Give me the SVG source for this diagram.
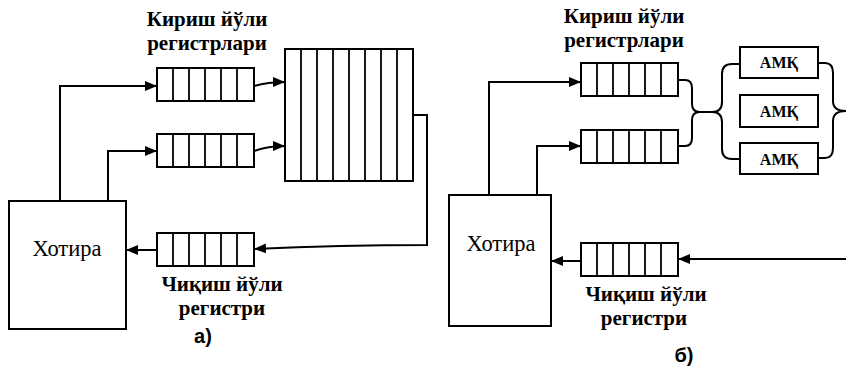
<svg xmlns="http://www.w3.org/2000/svg" width="846" height="372" viewBox="0 0 846 372">
<style>
.box{fill:#fff;stroke:#000;stroke-width:2}
.cell{stroke:#000;stroke-width:1.8}
.ln{fill:none;stroke:#000;stroke-width:2}
.lbl{font-family:"Liberation Serif","Times New Roman",serif;font-weight:bold;font-size:21px;fill:#000;text-anchor:middle}
.mem{font-family:"Liberation Serif","Times New Roman",serif;font-size:22.5px;fill:#000;text-anchor:middle}
.amk{font-family:"Liberation Serif","Times New Roman",serif;font-weight:bold;font-size:16px;fill:#000;text-anchor:middle}
.cap{font-family:"Liberation Sans",Arial,sans-serif;font-weight:bold;font-size:20px;fill:#000;text-anchor:middle}
</style>
<defs>
<marker id="ah" viewBox="0 0 12 10" refX="12" refY="5" markerWidth="12" markerHeight="10" markerUnits="userSpaceOnUse" orient="auto">
<path d="M0,0 L12,5 L0,10 Z" fill="#000"/>
</marker>
<g id="reg">
<rect class="box" x="0" y="0" width="97" height="33"/>
<path class="cell" d="M16,0V33M32,0V33M48,0V33M64,0V33M80,0V33"/>
</g>
</defs>

<g id="a-mem">
<rect class="box" x="9" y="201" width="117" height="128"/>
<text class="mem" x="67" y="256">Хотира</text>
</g>
<g id="a-in1"><use href="#reg" x="157" y="68"/></g>
<g id="a-in2"><use href="#reg" x="157" y="134"/></g>
<g id="a-out"><use href="#reg" x="157" y="233"/></g>
<g id="a-proc">
<rect class="box" x="285" y="49" width="128" height="132"/>
<path class="cell" d="M301,49V181M317,49V181M333,49V181M349,49V181M365,49V181M381,49V181M397,49V181"/>
</g>
<g id="a-labels">
<text class="lbl" x="207" y="26">Кириш йўли</text>
<text class="lbl" x="207" y="50">регистрлари</text>
<text class="lbl" x="222" y="291">Чиқиш йўли</text>
<text class="lbl" x="222" y="315">регистри</text>
<text class="cap" x="203" y="343">а)</text>
</g>

<g id="b-mem">
<rect class="box" x="449" y="195" width="102" height="131"/>
<text class="mem" x="501" y="251">Хотира</text>
</g>
<g id="b-in1"><use href="#reg" x="581" y="63"/></g>
<g id="b-in2"><use href="#reg" x="581" y="130"/></g>
<g id="b-out"><use href="#reg" x="581" y="243"/></g>
<g id="b-amk1"><rect class="box" x="740" y="47" width="78" height="31"/><text class="amk" x="779" y="68">АМҚ</text></g>
<g id="b-amk2"><rect class="box" x="740" y="95" width="78" height="32"/><text class="amk" x="779" y="117">АМҚ</text></g>
<g id="b-amk3"><rect class="box" x="740" y="143" width="78" height="31"/><text class="amk" x="779" y="165">АМҚ</text></g>
<g id="b-labels">
<text class="lbl" x="624" y="23">Кириш йўли</text>
<text class="lbl" x="624" y="47">регистрлари</text>
<text class="lbl" x="646" y="301">Чиқиш йўли</text>
<text class="lbl" x="644" y="325">регистри</text>
<text class="cap" x="684" y="362">б)</text>
</g>

<g id="connectors">
<path class="ln" d="M60,201V86H157" marker-end="url(#ah)"/>
<path class="ln" d="M108,201V151H157" marker-end="url(#ah)"/>
<path class="ln" d="M254,86Q268,82 285,82" marker-end="url(#ah)"/>
<path class="ln" d="M254,151Q268,146 285,146" marker-end="url(#ah)"/>
<path class="ln" d="M413,115H427V245Q340,245 254,249" marker-end="url(#ah)"/>
<path class="ln" d="M157,250H126" marker-end="url(#ah)"/>

<path class="ln" d="M489,195V82H581" marker-end="url(#ah)"/>
<path class="ln" d="M537,195V146H581" marker-end="url(#ah)"/>
<path class="ln" d="M678,80H685Q692,80 692,88V104Q692,112 700,112H712"/>
<path class="ln" d="M678,146H685Q692,146 692,138V120Q692,112 700,112"/>
<path class="ln" d="M740,64H732Q722,64 722,74V102Q722,112 712,112Q722,112 722,122V149Q722,159 732,159H740"/>
<path class="ln" d="M818,63H825Q833,63 833,73V101Q833,111 846,111M846,111Q833,111 833,121V148Q833,158 825,158H818"/>
<path class="ln" d="M846,259H678" marker-end="url(#ah)"/>
<path class="ln" d="M581,261H551" marker-end="url(#ah)"/>
</g>
</svg>
